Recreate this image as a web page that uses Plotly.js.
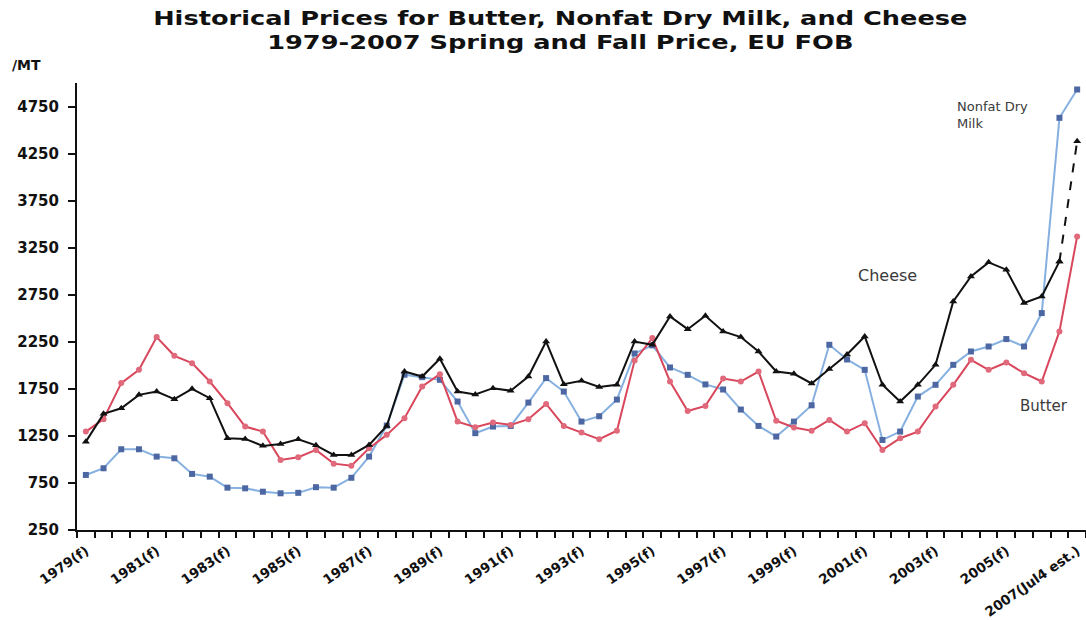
<!DOCTYPE html>
<html>
<head>
<meta charset="utf-8">
<script src="https://cdn.plot.ly/plotly-3.0.1.min.js"></script>
<style>
  html, body { margin: 0; padding: 0; background: #ffffff; }
  #chart { width: 1086px; height: 620px; }
  /* widen the two-line heading */
  #chart .gtitle { transform-box: fill-box; transform-origin: 50% 50%; transform: scaleX(1.35); }
</style>
</head>
<body>
<div id="chart"></div>
<script>
// Spring and fall prices, US$ per metric ton, EU FOB (57 half-year periods, fall 1979 to 2007 estimate)
const tickLabels = ["1979(f)", "1981(f)", "1983(f)", "1985(f)", "1987(f)", "1989(f)", "1991(f)",
  "1993(f)", "1995(f)", "1997(f)", "1999(f)", "2001(f)", "2003(f)", "2005(f)", "2007(Jul4 est.)"];

const cheese = [1189, 1484, 1544, 1686, 1721, 1640, 1750, 1651, 1225, 1218,
  1144, 1165, 1215, 1150, 1048, 1048, 1154, 1355, 1934, 1881,
  2070, 1721, 1690, 1757, 1730, 1881, 2253, 1800, 1835, 1770,
  1793, 2253, 2218, 2519, 2384, 2527, 2360, 2300, 2147, 1934,
  1910, 1807, 1960, 2115, 2307, 1793, 1615, 1793, 2005, 2679,
  2945, 3094, 3016, 2662, 2732, 3104, 4381];

const butter = [1296, 1428, 1811, 1952, 2300, 2101, 2023, 1828, 1598, 1349,
  1296, 995, 1023, 1101, 955, 934, 1119, 1261, 1438, 1775,
  1906, 1402, 1342, 1392, 1367, 1428, 1590, 1356, 1285, 1215,
  1305, 2050, 2289, 1828, 1515, 1569, 1860, 1828, 1934, 1411,
  1340, 1305, 1420, 1296, 1385, 1101, 1225, 1296, 1562, 1793,
  2058, 1952, 2030, 1917, 1828, 2360, 3370];

const nonfatDryMilk = [835, 906, 1108, 1108, 1030, 1012, 846, 817, 700, 693,
  657, 640, 645, 705, 700, 805, 1030, 1360, 1900, 1874,
  1846, 1615, 1279, 1349, 1356, 1604, 1864, 1721, 1402, 1459,
  1636, 2126, 2212, 1977, 1899, 1797, 1743, 1530, 1356, 1243,
  1402, 1575, 2218, 2062, 1952, 1207, 1296, 1668, 1793, 2005,
  2147, 2200, 2279, 2200, 2555, 4630, 4931];

const yTicks = [250, 750, 1250, 1750, 2250, 2750, 3250, 3750, 4250, 4750];

const idx = cheese.map((_, i) => i);
const last = cheese.length - 1;
const tickPos = tickLabels.map((_, k) => k * 4);

const FONT = "DejaVu Sans, Arial, sans-serif";

const traces = [
  {
    name: "Nonfat Dry Milk",
    x: idx, y: nonfatDryMilk, type: "scatter", mode: "lines+markers",
    line: { color: "#86b0e0", width: 2 },
    marker: { symbol: "square", size: 6, color: "#4d67a3", line: { width: 0 } }
  },
  {
    name: "Butter",
    x: idx, y: butter, type: "scatter", mode: "lines+markers",
    line: { color: "#d9475c", width: 2 },
    marker: { symbol: "circle", size: 6, color: "#e0697b", line: { width: 0 } }
  },
  {
    name: "Cheese",
    x: idx.slice(0, last), y: cheese.slice(0, last), type: "scatter", mode: "lines+markers",
    line: { color: "#111111", width: 2 },
    marker: { symbol: "triangle-up", size: 7, color: "#111111" }
  },
  {
    // estimated final period drawn dashed
    name: "Cheese (est.)",
    x: idx.slice(last - 1), y: cheese.slice(last - 1), type: "scatter", mode: "lines+markers",
    line: { color: "#111111", width: 2, dash: "dash" },
    marker: { symbol: "triangle-up", size: 7, color: "#111111" }
  }
];

const layout = {
  width: 1086, height: 620,
  margin: { l: 77, r: 0, t: 83, b: 90 },
  paper_bgcolor: "#ffffff",
  plot_bgcolor: "#ffffff",
  showlegend: false,
  title: {
    text: "Historical Prices for Butter, Nonfat Dry Milk, and Cheese<br>1979-2007 Spring and Fall Price, EU FOB",
    font: { family: FONT, size: 19, color: "#111111", weight: "bold" },
    x: 0.479, xanchor: "center", xref: "paper",
    y: 0.96, yanchor: "top", yref: "container"
  },
  xaxis: {
    range: [-0.5, last + 0.5],
    showgrid: false, zeroline: false,
    showline: true, linecolor: "#111111", linewidth: 2,
    tickmode: "array", tickvals: tickPos, ticktext: tickLabels,
    ticks: "outside", ticklen: 6, tickcolor: "rgba(0,0,0,0)",
    tickangle: -35,
    tickfont: { family: FONT, size: 13.5, color: "#111111", weight: "bold" },
    minor: { tickmode: "linear", tick0: -0.5, dtick: 1, ticks: "outside", ticklen: 6, tickwidth: 2, tickcolor: "#111111", showgrid: false }
  },
  yaxis: {
    range: [250, 5000],
    showgrid: false, zeroline: false,
    showline: true, linecolor: "#111111", linewidth: 2,
    tickmode: "array", tickvals: yTicks, ticktext: yTicks.map(String),
    ticks: "outside", ticklen: 7, tickwidth: 2, tickcolor: "#111111",
    ticklabelstandoff: 6,
    tickfont: { family: FONT, size: 15, color: "#111111", weight: "bold" }
  },
  annotations: [
    {
      text: "/MT", xref: "paper", yref: "paper", x: -0.066, y: 1.04,
      xanchor: "left", yanchor: "middle", showarrow: false,
      font: { family: FONT, size: 14, color: "#111111", weight: "bold" }
    },
    {
      text: "Cheese", xref: "x", yref: "y", x: 45.3, y: 2950,
      xanchor: "center", yanchor: "middle", showarrow: false,
      font: { family: FONT, size: 16, color: "#3a3a3a" }
    },
    {
      text: "Butter", xref: "x", yref: "y", x: 54.1, y: 1570,
      xanchor: "center", yanchor: "middle", showarrow: false,
      font: { family: FONT, size: 15, color: "#3a3a3a" }
    },
    {
      text: "Nonfat Dry<br>Milk", xref: "x", yref: "y", x: 49.1, y: 4660,
      xanchor: "left", yanchor: "middle", align: "left", showarrow: false,
      font: { family: FONT, size: 13, color: "#3a3a3a" }
    }
  ]
};

Plotly.newPlot("chart", traces, layout, { staticPlot: true, displayModeBar: false });
</script>
</body>
</html>
